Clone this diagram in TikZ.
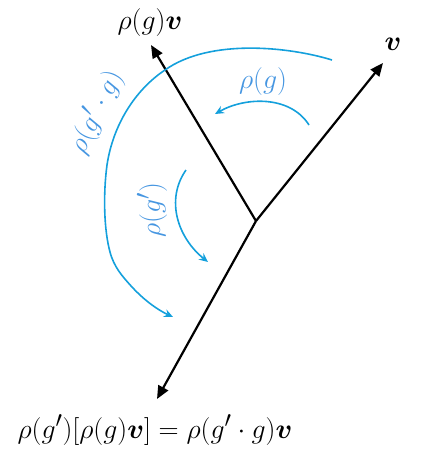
\documentclass[tikz,border=0pt]{standalone}
\usepackage{amsmath,bm}
\usetikzlibrary{arrows.meta}
\definecolor{arcblue}{RGB}{20,160,220}
\definecolor{labblue}{RGB}{70,150,225}
\begin{document}
\begin{tikzpicture}[x=1pt,y=-1pt,
  vec/.style={line width=2.2pt,-{Triangle[length=13pt,width=11pt]}},
  turn/.style={arcblue,line width=1.6pt,-{Stealth[length=9pt,width=8pt,inset=3pt]}},
  lab/.style={font=\Huge,inner sep=0pt,scale=1.12},
  blab/.style={lab,text=labblue}]
\useasboundingbox (0,0) rectangle (428,453);
\coordinate (o) at (256,221);
\coordinate (v) at (383,63);
\coordinate (gv) at (151,45);
\coordinate (ggv) at (157,399);
\draw[vec] (o) -- (v);
\draw[vec] (o) -- (gv);
\draw[vec] (o) -- (ggv);
\node[lab] (lv) at (393,44) {$\bm{v}$};
\node[lab] (lgv) at (150,23) {$\rho(g)\bm{v}$};
\node[lab] (lggv) at (155,430) {$\rho(g')[\rho(g)\bm{v}]=\rho(g'\cdot g)\bm{v}$};
% small arc rho(g)
\coordinate (a1) at (309,125);
\coordinate (a2) at (215,114);
\draw[turn] (a1) .. controls (290,95) and (245,97) .. (a2);
\node[blab] (lg) at (263,82) {$\rho(g)$};
% arc rho(g')
\coordinate (b1) at (186,170);
\coordinate (b2) at (208,262);
\draw[turn] (b1) .. controls (165,200) and (178,238) .. (b2);
\node[blab,rotate=90] (lgp) at (152,210) {$\rho(g')$};
% big arc
\coordinate (c1) at (332,60);
\coordinate (c2) at (173,317);
\draw[turn] (c1) .. controls (290,47) and (210,38) .. (165,70)
  .. controls (135,90) and (113,125) .. (107,165)
  .. controls (103,195) and (104,230) .. (110,252)
  .. controls (114,267) and (122,276) .. (132,287)
  .. controls (145,301) and (158,310) .. (c2);
\node[blab,rotate=64] (lgpg) at (96,112) {$\rho(g'\cdot g)$};
\end{tikzpicture}
\end{document}
